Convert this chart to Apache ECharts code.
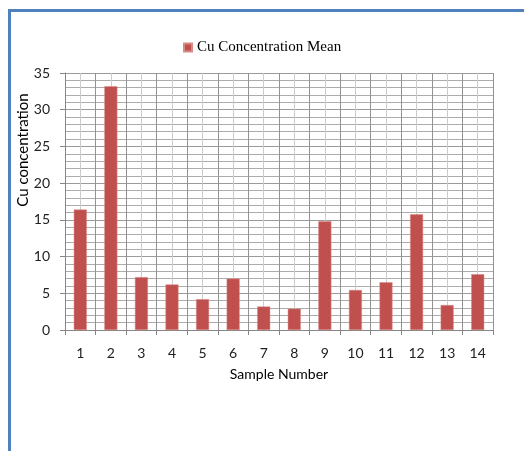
<!DOCTYPE html>
<html>
<head>
<meta charset="utf-8">
<script src="https://cdn.jsdelivr.net/npm/echarts@6/dist/echarts.min.js"></script>
<style>
html,body{margin:0;padding:0;background:#fff;}
#chart{width:524px;height:451px;}
</style>
</head>
<body>
<div id="chart"></div>
<script>
const categories = ['1','2','3','4','5','6','7','8','9','10','11','12','13','14'];
const cuMean = [16.4, 33.2, 7.2, 6.2, 4.2, 7.0, 3.2, 2.9, 14.8, 5.45, 6.5, 15.75, 3.4, 7.6];
const seriesName = 'Cu Concentration Mean';
const yTicks = {min: 0, max: 35, interval: 5};

const chart = echarts.init(document.getElementById('chart'), null, {renderer: 'canvas'});
const labelFont = 'Lato, "Open Sans", sans-serif';
chart.setOption({
  animation: false,
  backgroundColor: '#ffffff',
  legend: {
    data: [seriesName],
    top: 35,
    left: 178,
    itemWidth: 8,
    itemHeight: 8,
    itemGap: 6,
    icon: 'rect',
    textStyle: {fontFamily: '"Liberation Serif", serif', fontSize: 15, color: '#000'}
  },
  grid: {left: 65, right: 31, top: 73, bottom: 121, containLabel: false},
  xAxis: [
    {
      type: 'category',
      data: categories,
      name: 'Sample Number',
      nameLocation: 'middle',
      nameGap: 37,
      nameTextStyle: {fontFamily: labelFont, fontSize: 14, color: '#000'},
      axisLine: {show: true, lineStyle: {color: '#868686', width: 1}},
      axisTick: {show: true, length: 5, alignWithLabel: false, lineStyle: {color: '#868686'}},
      axisLabel: {margin: 16, fontFamily: labelFont, fontSize: 14, color: '#222'},
      splitLine: {show: false}
    },
    {
      type: 'value',
      min: 0, max: 14, interval: 1,
      show: true,
      axisLine: {show: false},
      axisTick: {show: false},
      axisLabel: {show: false},
      splitLine: {show: true, lineStyle: {color: '#939393', width: 1}},
      minorTick: {show: false, splitNumber: 2},
      minorSplitLine: {show: true, lineStyle: {color: '#cccccc', width: 1}}
    }
  ],
  yAxis: {
    type: 'value',
    min: yTicks.min, max: yTicks.max, interval: yTicks.interval,
    axisLine: {show: true, lineStyle: {color: '#868686', width: 1}},
    axisTick: {show: true, length: 5, lineStyle: {color: '#868686'}},
    axisLabel: {margin: 15, fontFamily: labelFont, fontSize: 14, color: '#222'},
    splitLine: {show: true, lineStyle: {color: '#9a9a9a', width: 1}},
    minorTick: {show: false, splitNumber: 5},
    minorSplitLine: {show: true, lineStyle: {color: '#acacac', width: 1}}
  },
  series: [{
    name: seriesName,
    type: 'bar',
    xAxisIndex: 0,
    data: cuMean,
    barWidth: 13,
    itemStyle: {color: '#c0504d', borderColor: '#d98a88', borderWidth: 0.5}
  }],
  graphic: [
    {type: 'rect', left: 8, top: 9, shape: {width: 516, height: 3}, style: {fill: '#4f81bd'}},
    {type: 'rect', left: 8, top: 9, shape: {width: 3, height: 442}, style: {fill: '#4f81bd'}},
    {
      type: 'text',
      x: 23, y: 150,
      rotation: Math.PI / 2,
      style: {
        text: 'Cu concentration',
        fontFamily: labelFont, fontSize: 15, fill: '#000',
        align: 'center', verticalAlign: 'middle'
      }
    }
  ]
});
</script>
</body>
</html>
